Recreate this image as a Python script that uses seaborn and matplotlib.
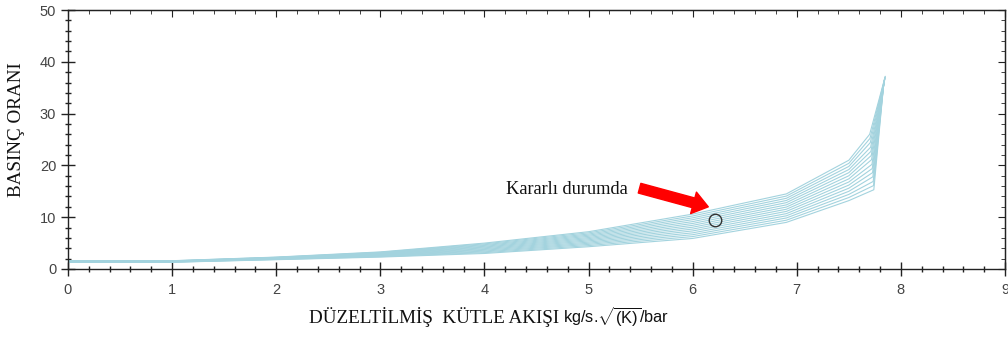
import numpy as np
import pandas as pd
import matplotlib
matplotlib.use("Agg")
import matplotlib.pyplot as plt
import seaborn as sns
from matplotlib.ticker import MultipleLocator

# ---------------- data ----------------
x_grid = [0.0, 1.0, 2.0, 3.0, 4.0, 5.0, 6.0, 6.9, 7.5]
y_x0 = [1.60, 1.58, 1.55, 1.53, 1.51, 1.48, 1.46, 1.44, 1.41, 1.39, 1.37, 1.35, 1.32, 1.30]
y_x1 = [1.60, 1.58, 1.55, 1.53, 1.51, 1.48, 1.46, 1.44, 1.41, 1.39, 1.37, 1.35, 1.32, 1.30]
y_x2 = [2.30, 2.26, 2.22, 2.18, 2.15, 2.11, 2.07, 2.03, 1.99, 1.95, 1.92, 1.88, 1.84, 1.80]
y_x3 = [3.30, 3.22, 3.15, 3.07, 2.99, 2.92, 2.84, 2.76, 2.68, 2.61, 2.53, 2.45, 2.38, 2.30]
y_x4 = [5.00, 4.85, 4.69, 4.54, 4.38, 4.23, 4.08, 3.92, 3.77, 3.62, 3.46, 3.31, 3.15, 3.00]
y_x5 = [7.20, 6.98, 6.75, 6.53, 6.31, 6.08, 5.86, 5.64, 5.42, 5.19, 4.97, 4.75, 4.52, 4.30]
y_x6 = [10.60, 10.24, 9.88, 9.52, 9.15, 8.79, 8.43, 8.07, 7.71, 7.35, 6.98, 6.62, 6.26, 5.90]
y_x69 = [14.50, 14.08, 13.65, 13.23, 12.81, 12.38, 11.96, 11.54, 11.12, 10.69, 10.27, 9.85, 9.42, 9.00]
y_x75 = [21.0, 20.4, 19.8, 19.2, 18.6, 18.0, 17.4, 16.8, 16.2, 15.6, 15.0, 14.4, 13.8, 13.2]
knee_x = [7.700, 7.703, 7.706, 7.709, 7.712, 7.715, 7.718, 7.722, 7.725, 7.728, 7.731, 7.734, 7.737, 7.740]
knee_y = [26.0, 25.2, 24.4, 23.5, 22.7, 21.9, 21.1, 20.2, 19.4, 18.6, 17.8, 16.9, 16.1, 15.3]
tip_x = [7.850, 7.849, 7.848, 7.847, 7.846, 7.845, 7.844, 7.841, 7.840, 7.839, 7.838, 7.837, 7.836, 7.835]
tip_y = [37.2, 37.1, 37.0, 36.9, 36.8, 36.7, 36.6, 36.4, 36.3, 36.2, 36.1, 36.0, 35.9, 35.8]

steady_x = [6.21]
steady_y = [9.4]

x_ticks = [0, 1, 2, 3, 4, 5, 6, 7, 8, 9]
y_ticks = [0, 10, 20, 30, 40, 50]

# ---------------- build long-form table ----------------
grid_cols = [y_x0, y_x1, y_x2, y_x3, y_x4, y_x5, y_x6, y_x69, y_x75]
rows = []
for i in range(len(knee_x)):
    xs = list(x_grid) + [knee_x[i], tip_x[i]]
    ys = [c[i] for c in grid_cols] + [knee_y[i], tip_y[i]]
    for order, (xv, yv) in enumerate(zip(xs, ys)):
        rows.append({"line": i, "order": order, "x": xv, "y": yv})
df = pd.DataFrame(rows)

# ---------------- style ----------------
sns.set_style("ticks")
plt.rcParams["font.family"] = ["Liberation Sans", "DejaVu Sans"]
plt.rcParams["mathtext.fontset"] = "custom"
plt.rcParams["mathtext.rm"] = "Liberation Sans"
plt.rcParams["mathtext.it"] = "Liberation Sans"

fig = plt.figure(figsize=(10.08, 3.38), dpi=100)
ax = fig.add_axes([68 / 1008, 1 - 269 / 338, (1005 - 68) / 1008, (269 - 10) / 338])

sns.lineplot(data=df, x="x", y="y", units="line", estimator=None, sort=False,
             color="#a3d3de", linewidth=0.8, ax=ax, legend=False)

ax.plot(steady_x, steady_y, marker="o", markersize=9, markerfacecolor="none",
        markeredgecolor="#333333", markeredgewidth=1.0, linestyle="none")

ax.annotate("", xy=(6.15, 12.0), xytext=(5.49, 15.6),
            arrowprops=dict(arrowstyle="simple,head_length=1.1,head_width=1.6,tail_width=0.72",
                            color="#ff0000", shrinkA=0, shrinkB=0))
ax.text(4.21, 15.3, "Kararlı durumda", ha="left", va="center",
        fontsize=13.2, family=["Liberation Serif", "DejaVu Serif"], color="#111111")

ax.set_xlim(0, 9)
ax.set_ylim(0, 50)
ax.set_xticks(x_ticks)
ax.set_yticks(y_ticks)
ax.xaxis.set_minor_locator(MultipleLocator(0.2))
ax.yaxis.set_minor_locator(MultipleLocator(2))
ax.set_xlabel("")
ax.set_ylabel("")

for s in ax.spines.values():
    s.set_color("#222222")
    s.set_linewidth(1.0)

ax.tick_params(which="both", direction="inout", color="#222222", labelsize=10.5,
               labelcolor="#444444", top=False, right=False)
ax.tick_params(which="major", length=10, width=1.0)
ax.tick_params(which="minor", length=5, width=1.0)
ax.tick_params(axis="x", pad=5)

secx = ax.secondary_xaxis("top")
secx.set_xticks(x_ticks)
secx.xaxis.set_minor_locator(MultipleLocator(0.2))
secx.tick_params(which="both", direction="in", labeltop=False, color="#222222")
secx.tick_params(which="major", length=5)
secx.tick_params(which="minor", length=3)
secx.set_xticklabels([])

secy = ax.secondary_yaxis("right")
secy.set_yticks(y_ticks)
secy.yaxis.set_minor_locator(MultipleLocator(2))
secy.tick_params(which="both", direction="in", labelright=False, color="#222222")
secy.tick_params(which="major", length=5)
secy.tick_params(which="minor", length=3)
secy.set_yticklabels([])

# axis titles
fig.text(17 / 1008, 1 - 130 / 338, "BASINÇ ORANI", rotation=90, ha="center", va="center",
         fontsize=13.8, family=["Liberation Serif", "DejaVu Serif"], color="#111111")
fig.text(559 / 1008, 1 - 317 / 338, "DÜZELTİLMİŞ  KÜTLE AKIŞI", ha="right", va="center",
         fontsize=13.8, family=["Liberation Serif", "DejaVu Serif"], color="#111111")
fig.text(563 / 1008, 1 - 317 / 338, r"kg/s.$\sqrt{(\mathrm{K})}$/bar", ha="left", va="center",
         fontsize=11.8, color="#111111")

fig.savefig("out.png", dpi=100)
